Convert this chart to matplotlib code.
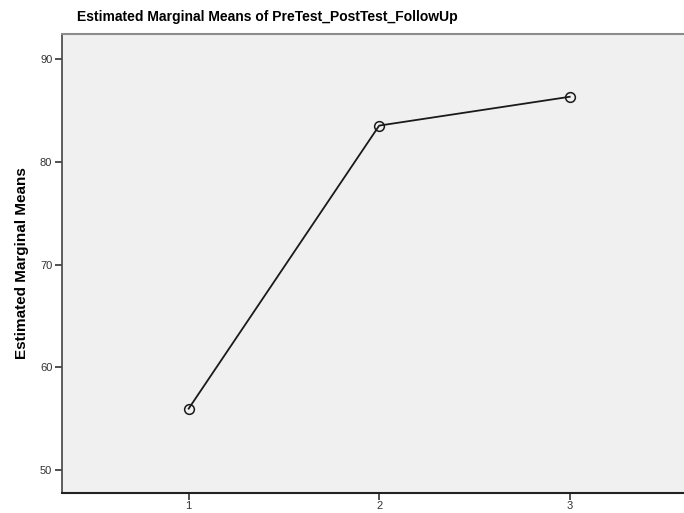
import matplotlib
matplotlib.use('Agg')
import matplotlib.pyplot as plt

matplotlib.rcParams['font.family'] = ['Liberation Sans', 'DejaVu Sans']

# estimated marginal means for the three measurement times
times = [1, 2, 3]
means = [56.0, 83.5, 86.3]
yticks = [50, 60, 70, 80, 90]

fig = plt.figure(figsize=(6.84, 5.13), dpi=100)
W, H = 684, 513
ax = fig.add_axes([62 / W, (H - 493) / H, (W - 62) / W, (493 - 34) / H])
ax.set_facecolor('#f0f0f0')

ax.plot(times, means, color='#1a1a1a', linewidth=1.3, marker='o',
        markersize=7, markerfacecolor='none', markeredgecolor='#1a1a1a',
        markeredgewidth=1.1)

ax.set_xlim(0.335, 3.6)
ax.set_ylim(47.8, 92.4)
ax.set_xticks(times)
ax.set_yticks(yticks)
ax.tick_params(axis='both', direction='out', labelsize=8, colors='#333333',
               width=1.2)
ax.tick_params(axis='y', length=5, pad=2)
ax.tick_params(axis='x', length=5, pad=0.5)

ax.spines['right'].set_visible(False)
ax.spines['top'].set_color('#8c8c8c')
ax.spines['top'].set_linewidth(1.5)
ax.spines['left'].set_color('#444444')
ax.spines['left'].set_linewidth(1.2)
ax.spines['bottom'].set_color('#222222')
ax.spines['bottom'].set_linewidth(1.5)

ax.set_ylabel('Estimated Marginal Means', fontsize=11, fontweight='bold',
              labelpad=8)
fig.text(267 / W, 1 - 17 / H, 'Estimated Marginal Means of PreTest_PostTest_FollowUp',
         ha='center', va='center', fontsize=10, fontweight='bold')

fig.savefig('out.png', dpi=100)
